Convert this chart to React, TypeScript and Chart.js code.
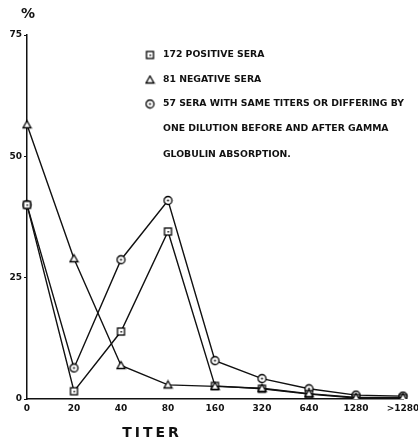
import { useEffect, useRef } from 'react';
import { Chart, registerables } from 'chart.js';

Chart.register(...registerables);

const titers = ['0', '20', '40', '80', '160', '320', '640', '1280', '>1280'];
const positiveSera = [40, 1.6, 13.9, 34.5, 2.7, 2.1, 1.0, 0.2, 0.2];
const negativeSera = [56.5, 28.9, 6.9, 2.9, 2.6, 2.2, 1.1, 0.3, 0.3];
const sameTiterSera = [40, 6.4, 28.7, 40.9, 7.9, 4.2, 2.1, 0.8, 0.6];
const yTickValues = [0, 25, 50, 75];
const legendLines = [
  '172 POSITIVE SERA',
  '81 NEGATIVE SERA',
  '57 SERA WITH SAME TITERS OR DIFFERING BY',
  'ONE DILUTION BEFORE AND AFTER GAMMA',
  'GLOBULIN ABSORPTION.',
];
const legendMarkers = ['square', 'triangle', 'circle', '', ''];
const xTitle = 'TITER';
const yTitle = '%';

function makeMarker(kind: string): HTMLCanvasElement {
  const c = document.createElement('canvas');
  c.width = 11;
  c.height = 11;
  const g = c.getContext('2d')!;
  g.strokeStyle = '#000';
  g.fillStyle = '#fff';
  g.lineWidth = 1.3;
  if (kind === 'square') {
    g.fillRect(2, 2, 7, 7);
    g.strokeRect(2, 2, 7, 7);
    g.fillStyle = '#000';
    g.fillRect(5, 5, 1.5, 1.5);
  } else if (kind === 'circle') {
    g.beginPath();
    g.arc(5.5, 5.5, 4, 0, Math.PI * 2);
    g.fill();
    g.stroke();
    g.fillStyle = '#000';
    g.beginPath();
    g.arc(5.5, 5.5, 1, 0, Math.PI * 2);
    g.fill();
  } else {
    g.beginPath();
    g.moveTo(5.5, 1.5);
    g.lineTo(9.5, 8.5);
    g.lineTo(1.5, 8.5);
    g.closePath();
    g.fill();
    g.stroke();
  }
  return c;
}

export default function App() {
  const ref = useRef<HTMLCanvasElement | null>(null);
  useEffect(() => {
    if (!ref.current) return;
    const markers: Record<string, HTMLCanvasElement> = {
      square: makeMarker('square'),
      triangle: makeMarker('triangle'),
      circle: makeMarker('circle'),
    };
    const annot = {
      id: 'annot',
      afterDraw(chart: any) {
        const ctx = chart.ctx;
        ctx.save();
        ctx.fillStyle = '#111';
        ctx.font = 'bold 14px "DejaVu Sans"';
        ctx.textAlign = 'center';
        ctx.textBaseline = 'middle';
        ctx.fillText(yTitle, 28, 14);
        ctx.font = 'bold 14px "DejaVu Sans"';
        (ctx as any).letterSpacing = '3px';
        ctx.fillText(xTitle, 152, 433);
        (ctx as any).letterSpacing = '0px';
        ctx.font = 'bold 8px "DejaVu Sans"';
        ctx.textAlign = 'left';
        const target = 241;
        const w = ctx.measureText(legendLines[2]).width;
        const sx = target / w;
        const ys = [55, 80, 104, 129, 155];
        legendLines.forEach((t, i) => {
          const m = legendMarkers[i];
          if (m) ctx.drawImage(markers[m], 150 - 5.5, ys[i] - 5.5);
          ctx.save();
          ctx.translate(163, ys[i]);
          ctx.scale(sx, 1);
          ctx.fillText(t, 0, 0);
          ctx.restore();
        });
        ctx.restore();
      },
    };
    const ds = (data: number[], kind: string) => ({
      data,
      borderColor: '#111',
      backgroundColor: '#fff',
      borderWidth: 1.4,
      pointStyle: markers[kind],
      pointRadius: 5,
      tension: 0,
      fill: false,
    });
    const chart = new Chart(ref.current, {
      type: 'line',
      data: {
        labels: titers,
        datasets: [
          ds(negativeSera, 'triangle'),
          ds(positiveSera, 'square'),
          ds(sameTiterSera, 'circle'),
        ],
      },
      options: {
        animation: false,
        responsive: false,
        maintainAspectRatio: false,
        layout: { padding: { top: 35, right: 15, left: 0, bottom: 0 } },
        plugins: { legend: { display: false }, tooltip: { enabled: false } },
        scales: {
          x: {
            type: 'category',
            offset: false,
            grid: { display: false },
            border: { display: true, color: '#111', width: 1.5 },
            ticks: {
              color: '#111',
              font: { family: 'DejaVu Sans', size: 9, weight: 'bold' },
              padding: -4,
              maxRotation: 0,
              autoSkip: false,
            },
            afterFit: (s: any) => {
              s.height = 43;
            },
          },
          y: {
            min: 0,
            max: 75,
            afterBuildTicks: (s: any) => {
              s.ticks = yTickValues.map((v) => ({ value: v }));
            },
            grid: { drawOnChartArea: false, tickLength: 3, color: '#111' },
            border: { display: true, color: '#111', width: 1.5 },
            ticks: {
              color: '#111',
              font: { family: 'DejaVu Sans', size: 9, weight: 'bold' },
              padding: 2,
            },
            afterFit: (s: any) => {
              s.width = 27;
            },
          },
        },
      },
      plugins: [annot],
    } as any);
    return () => chart.destroy();
  }, []);
  return (
    <div style={{ position: 'absolute', left: 0, top: 0, width: 418, height: 442, background: '#fff' }}>
      <canvas ref={ref} width={418} height={442} style={{ width: 418, height: 442 }} />
    </div>
  );
}
